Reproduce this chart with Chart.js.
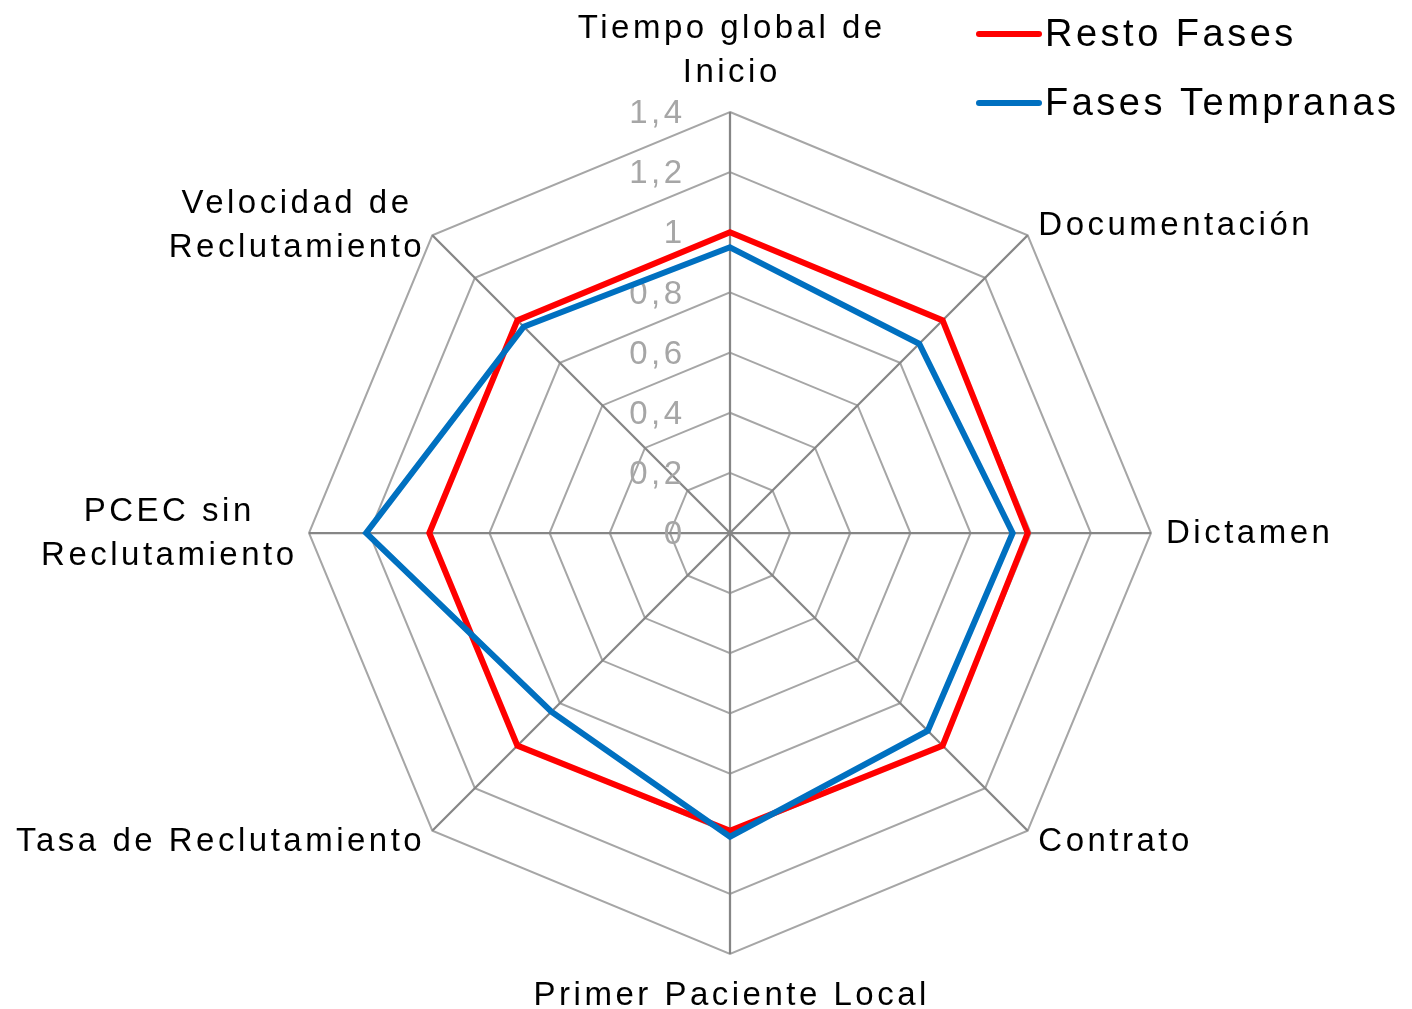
<!DOCTYPE html>
<html>
<head>
<meta charset="utf-8">
<script src="https://cdn.jsdelivr.net/npm/chart.js@4.4.1/dist/chart.umd.min.js"></script>
<style>
  html, body { margin: 0; padding: 0; background: #fff; }
</style>
</head>
<body>
<canvas id="radar" width="1412" height="1009"></canvas>
<script>
// categories, clockwise from the top
const categories = [
  ['Tiempo global de', 'Inicio'],
  ['Documentación'],
  ['Dictamen'],
  ['Contrato'],
  ['Primer Paciente Local'],
  ['Tasa de Reclutamiento'],
  ['PCEC sin', 'Reclutamiento'],
  ['Velocidad de', 'Reclutamiento']
];
const restoFases = [1.0, 1.0, 0.99, 1.0, 0.99, 1.0, 1.0, 1.0];
const fasesTempranas = [0.95, 0.89, 0.94, 0.93, 1.01, 0.84, 1.21, 0.97];
const tickLabels = ['0', '0,2', '0,4', '0,6', '0,8', '1', '1,2', '1,4'];

const FONT = '"Liberation Sans", Arial, sans-serif';

// place the radar where the original sits
const CENTER_X = 730, CENTER_Y = 533, RADIUS = 421;

function textWidth(ctx, s, spacing) {
  return ctx.measureText(s).width - spacing;
}

// tick labels, left of the vertical axis
const tickPlugin = {
  id: 'tickText',
  beforeDatasetsDraw(chart) {
    const scale = chart.scales.r;
    const ctx = chart.ctx;
    ctx.save();
    ctx.font = '33px ' + FONT;
    ctx.letterSpacing = '3.5px';
    ctx.fillStyle = '#a6a6a6';
    ctx.textBaseline = 'middle';
    ctx.textAlign = 'left';
    scale.ticks.forEach((t, i) => {
      const y = scale.yCenter - scale.getDistanceFromCenterForValue(t.value);
      const s = tickLabels[i];
      ctx.fillText(s, scale.xCenter - 48 - textWidth(ctx, s, 3.5), y + 2);
    });
    ctx.restore();
  }
};

// category labels, centred line by line like the original
const labelPlugin = {
  id: 'catText',
  afterDraw(chart) {
    const scale = chart.scales.r;
    const ctx = chart.ctx;
    const lh = 44;
    ctx.save();
    ctx.font = '33px ' + FONT;
    ctx.letterSpacing = '3.5px';
    ctx.fillStyle = '#000';
    ctx.textBaseline = 'middle';
    ctx.textAlign = 'left';
    chart.data.labels.forEach((lines, i) => {
      const p = scale.getPointPosition(i, scale.drawingArea + 15);
      const n = lines.length;
      const widths = lines.map(s => textWidth(ctx, s, 3.5));
      const blockW = Math.max(...widths);
      let cx;
      const dx = p.x - scale.xCenter;
      if (Math.abs(dx) < 1) cx = p.x;
      else if (dx > 0) cx = p.x + blockW / 2;
      else cx = p.x - blockW / 2;
      const dy = p.y - scale.yCenter;
      lines.forEach((s, k) => {
        let y;
        if (Math.abs(dx) < 1 && dy < 0) y = p.y - 24 - (n - 1 - k) * lh;
        else if (Math.abs(dx) < 1 && dy > 0) y = p.y + 27 + k * lh;
        else y = p.y + 1 + (k - (n - 1) / 2) * lh;
        ctx.fillText(s, cx - widths[k] / 2, y);
      });
    });
    ctx.restore();
  }
};

// legend, top right
const legendPlugin = {
  id: 'sideLegend',
  afterDraw(chart) {
    const ctx = chart.ctx;
    ctx.save();
    ctx.font = '38px ' + FONT;
    ctx.letterSpacing = '3.5px';
    ctx.textBaseline = 'middle';
    ctx.textAlign = 'left';
    const rows = [34, 103];
    chart.data.datasets.forEach((ds, i) => {
      const y = rows[i];
      ctx.strokeStyle = ds.borderColor;
      ctx.lineWidth = 6;
      ctx.lineCap = 'round';
      ctx.beginPath();
      ctx.moveTo(979, y);
      ctx.lineTo(1039, y);
      ctx.stroke();
      ctx.fillStyle = '#000';
      ctx.fillText(ds.label, 1045, y + 2);
    });
    ctx.restore();
  }
};

new Chart(document.getElementById('radar'), {
  type: 'radar',
  data: {
    labels: categories,
    datasets: [
      {
        label: 'Resto Fases',
        data: restoFases,
        borderColor: '#ff0000',
        borderWidth: 6,
        borderJoinStyle: 'miter',
        pointRadius: 0,
        fill: false,
        order: 1
      },
      {
        label: 'Fases Tempranas',
        data: fasesTempranas,
        borderColor: '#0070c0',
        borderWidth: 6,
        borderJoinStyle: 'miter',
        pointRadius: 0,
        fill: false,
        order: 0
      }
    ]
  },
  options: {
    responsive: false,
    animation: false,
    devicePixelRatio: 1,
    layout: { padding: 0 },
    plugins: {
      legend: { display: false },
      tooltip: { enabled: false }
    },
    scales: {
      r: {
        min: 0,
        max: 1.4,
        ticks: { stepSize: 0.2, display: false },
        grid: { color: '#a6a6a6', lineWidth: 2 },
        angleLines: { color: '#868686', lineWidth: 2.25 },
        pointLabels: { display: false },
        afterFit(scale) {
          scale.xCenter = CENTER_X;
          scale.yCenter = CENTER_Y;
          scale.drawingArea = RADIUS;
        }
      }
    }
  },
  plugins: [tickPlugin, labelPlugin, legendPlugin]
});
</script>
</body>
</html>
